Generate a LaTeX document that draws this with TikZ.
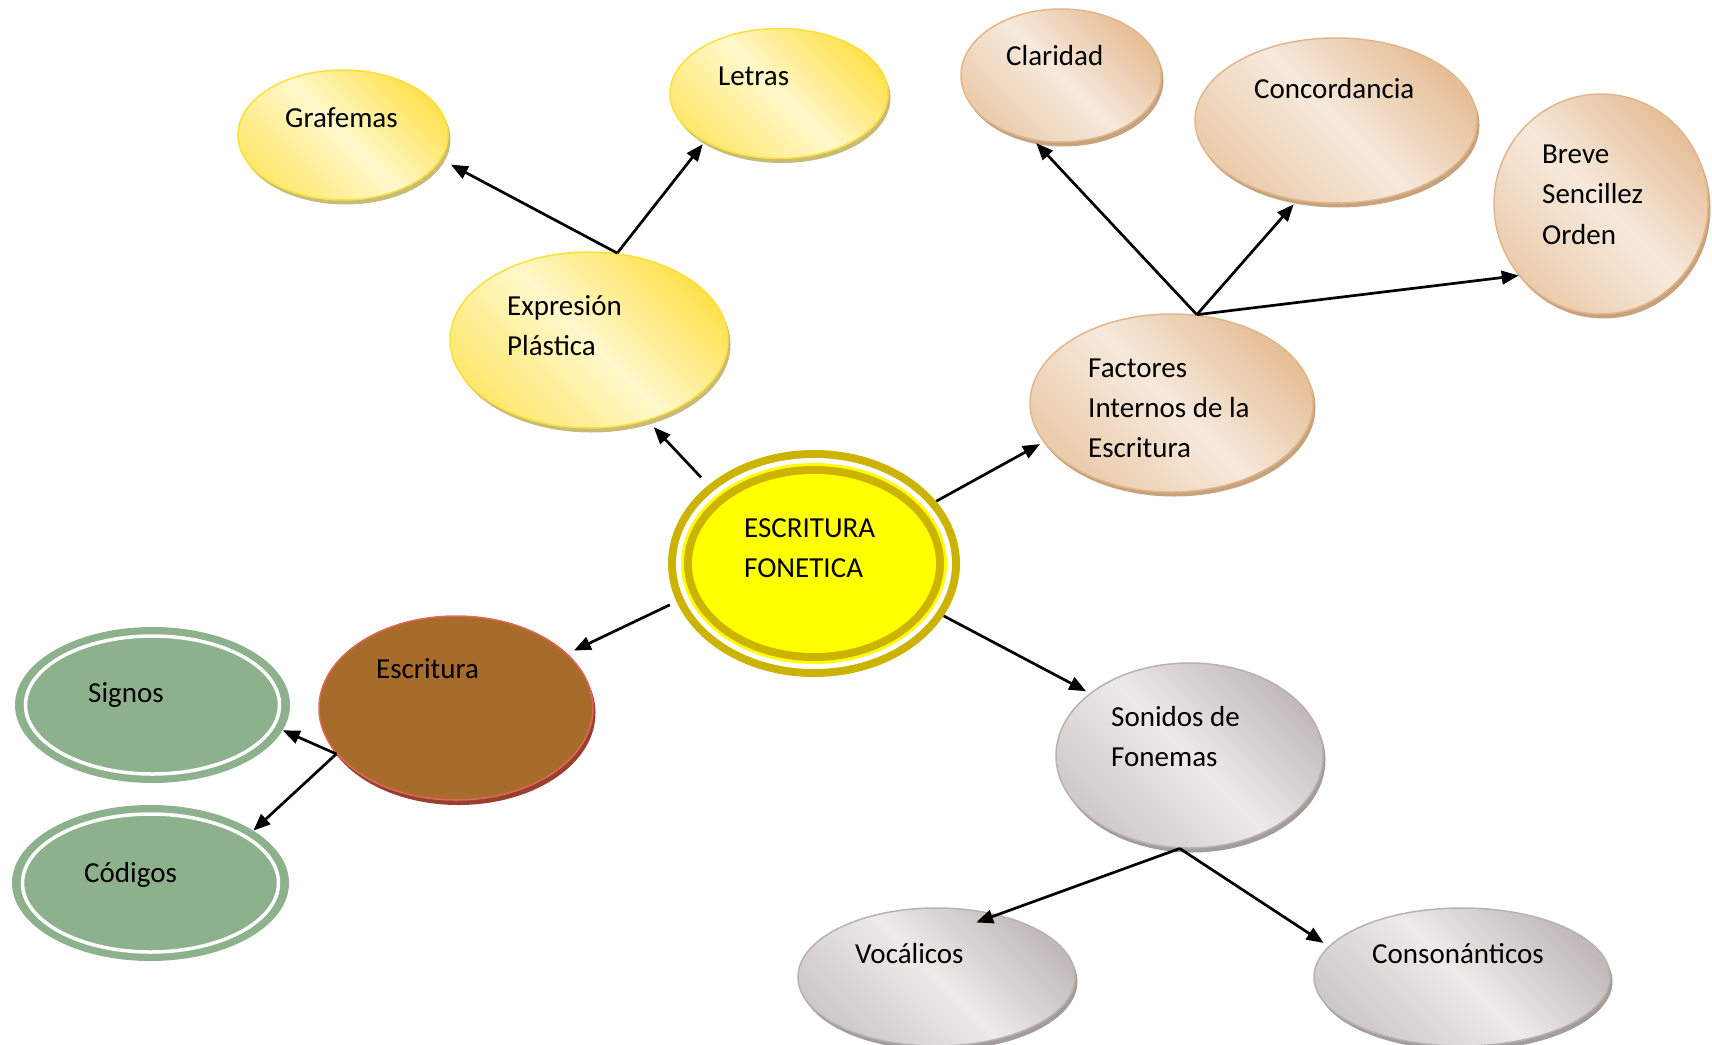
\documentclass[tikz,border=0pt]{standalone}
\usepackage{fontspec}
\setmainfont{Carlito}
\usetikzlibrary{shapes.geometric,arrows.meta,shadows}
\definecolor{yelB}{HTML}{FCE038}
\definecolor{yelD}{HTML}{FFE14F}
\definecolor{yelL}{HTML}{FFF8CC}
\definecolor{yelM}{HTML}{FFE870}
\definecolor{yelS}{HTML}{C8BB78}
\definecolor{tanB}{HTML}{E2B68C}
\definecolor{tanD}{HTML}{E6BE96}
\definecolor{tanL}{HTML}{F6E9DC}
\definecolor{tanM}{HTML}{EBCCAC}
\definecolor{tanS}{HTML}{C7A37D}
\definecolor{gryB}{HTML}{B8B1AF}
\definecolor{gryD}{HTML}{C1BAB8}
\definecolor{gryL}{HTML}{EDEAE8}
\definecolor{gryM}{HTML}{CFC9C7}
\definecolor{gryS}{HTML}{A29D9B}
\definecolor{olv}{HTML}{CBB300}
\definecolor{yelC}{HTML}{FFFF00}
\definecolor{brF}{HTML}{A76B2B}
\definecolor{brB}{HTML}{E0685A}
\definecolor{brS}{HTML}{983F2E}
\definecolor{grn}{HTML}{8DB18D}
\tikzset{
  oval/.style={ellipse, inner sep=0pt},
  yelnode/.style={oval, draw=yelB, line width=1.5pt, top color=yelD, bottom color=yelM, middle color=yelL, shading angle=-45,
    drop shadow={shadow xshift=2.5pt, shadow yshift=-4.5pt, fill=yelS, opacity=1}},
  tannode/.style={oval, draw=tanB, line width=1.5pt, top color=tanD, bottom color=tanM, middle color=tanL, shading angle=-45,
    drop shadow={shadow xshift=2.5pt, shadow yshift=-4.5pt, fill=tanS, opacity=1}},
  grynode/.style={oval, draw=gryB, line width=1.5pt, top color=gryD, bottom color=gryM, middle color=gryL, shading angle=-45,
    drop shadow={shadow xshift=2.5pt, shadow yshift=-4.5pt, fill=gryS, opacity=1}},
  brnode/.style={oval, fill=brF, draw=brB, line width=1.5pt,
    drop shadow={shadow xshift=2.5pt, shadow yshift=-5pt, fill=brS, opacity=1}},
  grnnode/.style={oval, fill=grn},
  txt/.style={anchor=base west, inner sep=0pt, font=\fontsize{29}{40}\selectfont},
  arr/.style={-{Triangle[length=17pt,width=13.5pt]}, line width=2.7pt},
}
\begin{document}
\begin{tikzpicture}[x=1pt,y=-1pt]
\useasboundingbox (0,0) rectangle (1712,1044);
\clip (0,0) rectangle (1712,1044);

% yellow group
\node[yelnode, minimum width=210pt, minimum height=130pt] (graf) at (343,135) {};
\node[yelnode, minimum width=218pt, minimum height=130pt] (letr) at (779,93.5) {};
\node[yelnode, minimum width=278pt, minimum height=176pt] (expr) at (589,340) {};

% tan group
\node[tannode, minimum width=200pt, minimum height=133pt] (clar) at (1061,75.5) {};
\node[tannode, minimum width=282pt, minimum height=165pt] (conc) at (1336,120.5) {};
\node[tannode, minimum width=214pt, minimum height=220pt] (brev) at (1601,204) {};
\node[tannode, minimum width=283pt, minimum height=178pt] (fact) at (1171.5,403) {};

% grey group
\node[grynode, minimum width=267pt, minimum height=185pt] (son) at (1189.5,755.5) {};
\node[grynode, minimum width=277pt, minimum height=138pt] (voc) at (936.5,977) {};
\node[grynode, minimum width=296pt, minimum height=138pt] (cons) at (1462,977) {};

% brown
\node[brnode, minimum width=274pt, minimum height=184pt] (escr) at (456,708) {};

% green
\node[grnnode, minimum width=275pt, minimum height=156pt] (sig) at (152.5,705) {};
\draw[white, line width=3.5pt] (sig.center) ellipse [x radius=127pt, y radius=69pt];
\node[grnnode, minimum width=277pt, minimum height=156pt] (cod) at (150.5,883) {};
\draw[white, line width=3.5pt] (cod.center) ellipse [x radius=128pt, y radius=69pt];

% central node
\node[oval, fill=olv, minimum width=292pt, minimum height=227pt] (cen) at (814,563.5) {};
\fill[white] (cen.center) ellipse [x radius=138pt, y radius=105.5pt];
\fill[yelC] (cen.center) ellipse [x radius=133pt, y radius=100.5pt];
\fill[olv] (cen.center) ellipse [x radius=130pt, y radius=97.5pt];
\fill[yelC] (cen.center) ellipse [x radius=122pt, y radius=89.5pt];

% texts
\node[txt] (tgraf) at (285,127) {Grafemas};
\node[txt] (tletr) at (718,85) {Letras};
\node[txt] (texpr1) at (507,315) {Expresión};
\node[txt] (texpr2) at (507,355) {Plástica};
\node[txt] (tclar) at (1006,65) {Claridad};
\node[txt] (tconc) at (1254,98) {Concordancia};
\node[txt] (tbrev1) at (1542,163) {Breve};
\node[txt] (tbrev2) at (1542,203) {Sencillez};
\node[txt] (tbrev3) at (1542,244) {Orden};
\begin{scope}
\clip (1000,300) rectangle (1320,458);
\node[txt] (tfact1) at (1088,377) {Factores};
\node[txt] (tfact2) at (1088,417) {Internos de la};
\node[txt] (tfact3) at (1088,457) {Escritura};
\end{scope}
\node[txt] (tcen1) at (744,537) {ESCRITURA};
\node[txt] (tcen2) at (744,577) {FONETICA};
\node[txt] (tescr) at (376,678) {Escritura};
\node[txt] (tsig) at (88,702) {Signos};
\node[txt] (tcod) at (84,882) {Códigos};
\node[txt] (tson1) at (1111,726) {Sonidos de};
\node[txt] (tson2) at (1111,766) {Fonemas};
\node[txt] (tvoc) at (855,963) {Vocálicos};
\node[txt] (tcons) at (1372,963) {Consonánticos};

% connectors
\draw[arr, shorten >=9pt] ([shift={(-8,-7)}]cen.143) -- (expr.-54);
\draw[arr, shorten >=11pt] (expr.72) -- (graf.-14);
\draw[arr, shorten >=3pt] (expr.72) -- (letr.-147);
\draw[arr, shorten >=4pt] (cen.27) -- (fact.-163);
\draw[arr, shorten >=4pt] (fact.74) -- (clar.-113);
\draw[arr, shorten >=5pt] (fact.74) -- (conc.-116);
\draw[arr] (fact.74) -- (brev.-139);
\draw[arr, shorten >=7pt] ([shift={(-7,2)}]cen.-164) -- (escr.26);
\draw[arr] (escr.-159) -- (sig.-11.5);
\draw[arr] (escr.-159) -- (cod.27.6);
\draw[arr, shorten >=4pt] (cen.-22) -- (son.148.5);
\draw[arr] (son.-96.4) -- ([shift={(-8,11)}]voc.54.5);
\draw[arr, shorten >=6pt] (son.-96.4) -- (cons.167.4);
\end{tikzpicture}
\end{document}
